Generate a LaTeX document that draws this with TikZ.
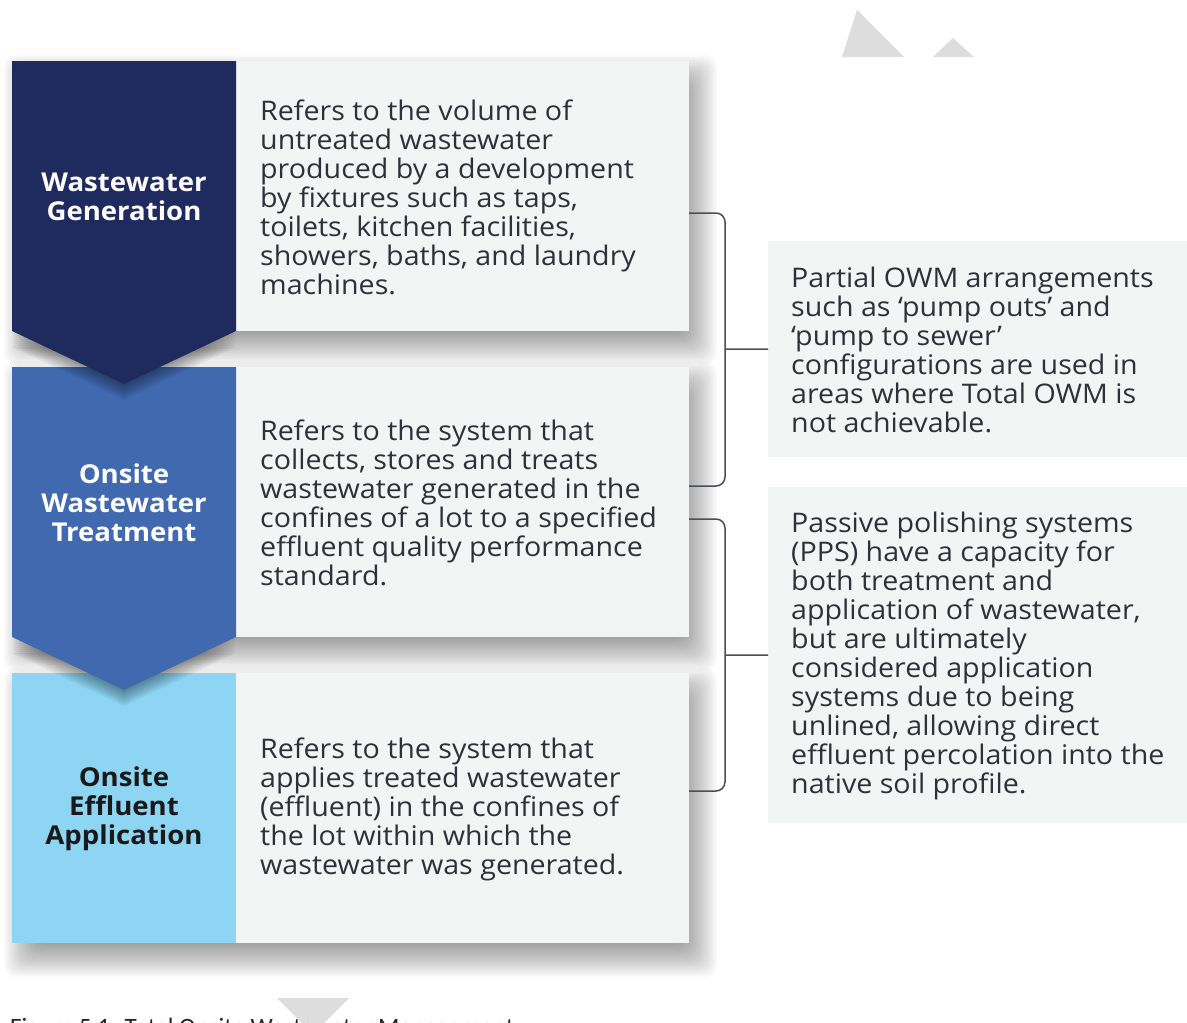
\documentclass[tikz,border=0pt]{standalone}
\usepackage{fontspec}
\setmainfont{Open Sans}[FakeStretch=1.06]
\newfontfamily\capfont{Carlito}
\definecolor{navy}{HTML}{1F2B5E}
\definecolor{midblue}{HTML}{4169B0}
\definecolor{lightblue}{HTML}{8DD5F3}
\definecolor{cardgray}{HTML}{F3F4F4}
\definecolor{txt}{HTML}{2E3236}
\definecolor{brkcol}{HTML}{4A4F55}
\definecolor{tri}{HTML}{DDDDDD}
\begin{document}
\begin{tikzpicture}[x=1pt,y=-1pt,
  card/.style={fill=cardgray, draw=none, inner sep=0pt, anchor=north west,
    minimum width=677pt, minimum height=270pt},
  rbox/.style={fill=cardgray, draw=none, inner sep=0pt, anchor=north west, minimum width=419pt},
  shadowlayer/.style={fill=black, opacity=0.022},
  chevlayer/.style={fill=black, opacity=0.05},
  lbl/.style={font=\bfseries\fontsize{26}{29}\selectfont, align=center, inner sep=0pt},
  desc/.style={font=\fontsize{27}{29}\selectfont, text=txt, align=left, anchor=west, inner sep=0pt},
  brk/.style={draw=brkcol, line width=1.5pt, rounded corners=9pt},
  stub/.style={draw=brkcol, line width=1.5pt}
]
\useasboundingbox (0,0) rectangle (1187,1023);
\clip (0,0) rectangle (1187,1023);
\fill[white] (0,0) rectangle (1187,1023);
% decorative triangles
\fill[tri] (842,57) -- (857,10) -- (904,57) -- cycle;
\fill[tri] (933,57) -- (953,38) -- (974,57) -- cycle;
% soft card shadows
\foreach \yy in {61,367,673}{
  \foreach \e in {-20,-18,...,20}{
    \fill[shadowlayer, rounded corners=12pt] (24-\e,\yy+14-\e) rectangle (697+\e,\yy+284+\e);
  }
}
% cards
\node[card] (c1) at (12,61) {};
\node[card] (c2) at (12,367) {};
\node[card] (c3) at (12,673) {};
% coloured blocks with soft chevron shadows
\fill[lightblue] (12,673) rectangle (236,943);
\foreach \s in {2,4,...,16}{
  \fill[chevlayer] (12,637+\s) -- (236,637+\s) -- (124,690+\s) -- cycle;
}
\fill[midblue] (12,367) -- (236,367) -- (236,637) -- (124,690) -- (12,637) -- cycle;
\foreach \s in {2,4,...,16}{
  \fill[chevlayer] (12,331+\s) -- (236,331+\s) -- (124,384+\s) -- cycle;
}
\fill[navy] (12,61) -- (236,61) -- (236,331) -- (124,384) -- (12,331) -- cycle;
% labels
\node[lbl, text=white] (l1) at (124,197) {Wastewater\\Generation};
\node[lbl, text=white] (l2) at (124,503) {Onsite\\Wastewater\\Treatment};
\node[lbl, text=black!90] (l3) at (124,809) {Onsite\\Effluent\\Application};
% descriptions
\node[desc] (t1) at (260,197) {Refers to the volume of\\untreated wastewater\\produced by a development\\by fixtures such as taps,\\toilets, kitchen facilities,\\showers, baths, and laundry\\machines.};
\node[desc] (t2) at (260,503) {Refers to the system that\\collects, stores and treats\\wastewater generated in the\\confines of a lot to a specified\\effluent quality performance\\standard.};
\node[desc] (t3) at (260,809) {Refers to the system that\\applies treated wastewater\\(effluent) in the confines of\\the lot within which the\\wastewater was generated.};
% right boxes
\node[rbox, minimum height=216pt] (r1) at (768,241) {};
\node[rbox, minimum height=336pt] (r2) at (768,487) {};
\node[desc] (rt1) at (791,350) {Partial OWM arrangements\\such as ‘pump outs’ and\\‘pump to sewer’\\configurations are used in\\areas where Total OWM is\\not achievable.};
\node[desc] (rt2) at (791,656) {Passive polishing systems\\(PPS) have a capacity for\\both treatment and\\application of wastewater,\\but are ultimately\\considered application\\systems due to being\\unlined, allowing direct\\effluent percolation into the\\native soil profile.};
% brackets
\coordinate (b1a) at (689,213);
\coordinate (b1b) at (689,486);
\coordinate (b1m) at (725,349);
\coordinate (b2a) at (689,519);
\coordinate (b2b) at (689,791);
\coordinate (b2m) at (725,655);
\draw[brk] (b1a) -- (b1m |- b1a) -- (b1m |- b1b) -- (b1b);
\draw[stub] (b1m) -- (r1.west);
\draw[brk] (b2a) -- (b2m |- b2a) -- (b2m |- b2b) -- (b2b);
\draw[stub] (b2m) -- (r2.west);
% bottom triangle and caption
\fill[tri] (277,998) -- (349,998) -- (313,1034) -- cycle;
\node[font=\capfont\fontsize{25}{28}\selectfont, text=black!85, anchor=base west, inner sep=0pt] (cap) at (10,1035) {Figure 5.1: Total Onsite Wastewater Management};
\end{tikzpicture}
\end{document}
